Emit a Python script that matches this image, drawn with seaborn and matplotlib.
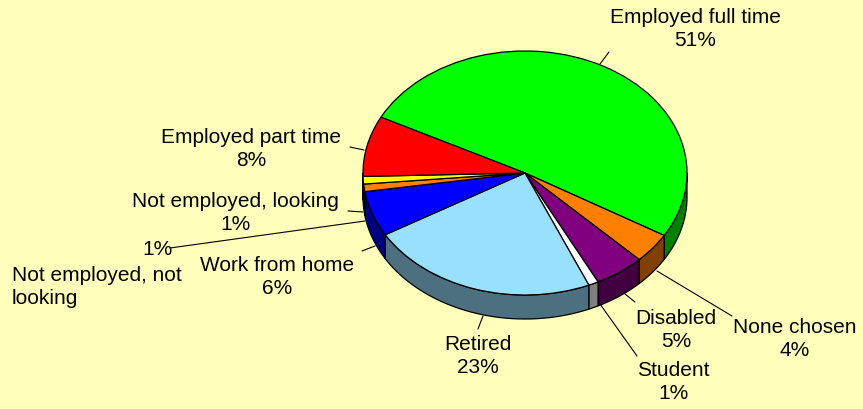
import numpy as np
import matplotlib
matplotlib.use('Agg')
import matplotlib.pyplot as plt
import seaborn as sns
from matplotlib.colors import to_rgb

# slices in clockwise order, starting at the upper left
categories = ['Employed full time', 'None chosen', 'Disabled', 'Student', 'Retired',
              'Work from home', 'Not employed, not looking', 'Not employed, looking',
              'Employed part time']
shares = [51, 4, 5, 1, 23, 6, 1, 1, 8]
slice_colors = ['#00FF00', '#FF8000', '#800080', '#FFFFFF', '#99E0FF',
                '#0000FF', '#FF8000', '#FFFF00', '#FF0000']

sns.set_theme(style='white')
plt.rcParams['font.family'] = ['Liberation Sans', 'DejaVu Sans']

bg = '#FFFFBB'
W, H = 863, 410
cx, cy = 525, 174          # pie centre in pixels
rx, ry = 162, 122          # ellipse half axes in pixels
depth = 24                 # thickness of the 3d rim
k = ry / rx

fig = plt.figure(figsize=(W / 100, H / 100), dpi=100, facecolor=bg)
ax = fig.add_axes([0, 0, 1, 1])
ax.set_facecolor(bg)

wedges, _ = ax.pie(shares, colors=slice_colors, startangle=152.8, counterclock=False,
                   center=(cx, (H - cy) / k), radius=rx,
                   wedgeprops=dict(edgecolor='black', linewidth=0.9, zorder=2))
ax.set_aspect('auto')
ax.set_xlim(0, W)
ax.set_ylim(0, H / k)
ax.axis('off')

# rim: front half of every wedge, pushed down by depth
cyd = (H - cy) / k
for w, c in zip(wedges, slice_colors):
    a, b = w.theta1, w.theta2
    side = tuple(np.array(to_rgb(c)) * 0.5)
    for n in range(-2, 2):
        lo, hi = max(a, 180 + 360 * n), min(b, 360 + 360 * n)
        if hi <= lo:
            continue
        t = np.radians(np.linspace(lo, hi, 80))
        x = cx + rx * np.cos(t)
        yt = cyd + rx * np.sin(t)
        yb = yt - depth / k
        ax.fill(np.r_[x, x[::-1]], np.r_[yt, yb[::-1]], facecolor=side,
                edgecolor='black', linewidth=0.9, zorder=1)

# labels and leader lines in pixel coordinates
ov = fig.add_axes([0, 0, 1, 1])
ov.set_xlim(0, W)
ov.set_ylim(H, 0)
ov.axis('off')

label_pos = [(695, 29), (795, 339), (676, 330), (673, 382), (478, 356),
             (277, 277), (157, 250), (235, 213), (251, 149)]
leaders = [((600, 65), (609, 53)), ((657, 272), (732, 317)), ((625, 295), (635, 303)),
           ((600, 305), (637, 357)), ((483, 317), (478, 330)), ((375, 247), (362, 252)),
           ((365, 222), (170, 249)), ((363, 213), (348, 212)), ((364, 151), (350, 148))]

for i, (cat, p) in enumerate(zip(categories, shares)):
    x, y = label_pos[i]
    if cat == 'Not employed, not looking':
        txt = f'{p}%'
        ov.text(12, 287, 'Not employed, not\nlooking', ha='left', va='center',
                fontsize=15, linespacing=1.25, color='black')
    else:
        txt = f'{cat}\n{p}%'
    ov.text(x, y, txt, ha='center', va='center', fontsize=15, linespacing=1.25,
            color='black')
    (x0, y0), (x1, y1) = leaders[i]
    ov.plot([x0, x1], [y0, y1], color='black', linewidth=0.8)

fig.savefig('out.png', dpi=100, facecolor=bg)
